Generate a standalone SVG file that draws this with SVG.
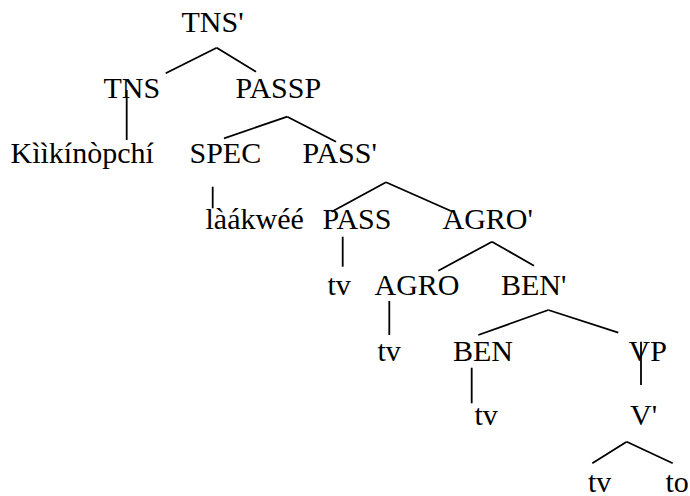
<svg xmlns="http://www.w3.org/2000/svg" width="690" height="496" viewBox="0 0 690 496">
<style>
.n text{font-family:"Liberation Serif","Times New Roman","DejaVu Serif",serif;font-size:30px;fill:#000}
.c line{stroke:#000;stroke-width:1.8;stroke-linecap:butt}
</style>
<rect width="690" height="496" fill="#fff"/>
<g class="c" id="connectors">
<line x1="216.7" y1="47.7" x2="165.7" y2="73.3"/>
<line x1="216.7" y1="47.7" x2="256" y2="71.7"/>
<line x1="126.7" y1="90" x2="126.7" y2="140"/>
<line x1="287.3" y1="116.7" x2="224" y2="138.3"/>
<line x1="287.3" y1="116.7" x2="336" y2="141.7"/>
<line x1="212.7" y1="186.7" x2="212.7" y2="208.3"/>
<line x1="386" y1="182.3" x2="331.7" y2="211.7"/>
<line x1="386" y1="182.3" x2="452.7" y2="211.7"/>
<line x1="342.7" y1="236.7" x2="342.7" y2="266.7"/>
<line x1="492" y1="241.7" x2="438.3" y2="270.7"/>
<line x1="492" y1="241.7" x2="534" y2="265.7"/>
<line x1="389.3" y1="301" x2="389.3" y2="335"/>
<line x1="548.3" y1="310" x2="478.3" y2="335"/>
<line x1="548.3" y1="310" x2="618.3" y2="332.7"/>
<line x1="471.7" y1="367.7" x2="471.7" y2="403.3"/>
<line x1="641" y1="341.7" x2="641" y2="385"/>
<line x1="626.7" y1="441.7" x2="592.3" y2="463.3"/>
<line x1="626.7" y1="441.7" x2="672.7" y2="463.3"/>
</g>
<g class="n" font-family="Liberation Serif, Times New Roman, serif" font-size="30">
<g id="n-tnsbar"><text x="181.5" y="32">TNS'</text></g>
<g id="n-tns"><text x="103.5" y="98">TNS</text></g>
<g id="n-passp"><text x="235.5" y="98">PASSP</text></g>
<g id="n-kiiki"><text x="10.5" y="163">Kììkínòpchí</text></g>
<g id="n-spec"><text x="189.5" y="163">SPEC</text></g>
<g id="n-passbar"><text x="302.5" y="163">PASS'</text></g>
<g id="n-laak"><text x="205.5" y="229">làákwéé</text></g>
<g id="n-pass"><text x="322.5" y="229">PASS</text></g>
<g id="n-agrobar"><text x="442.5" y="229">AGRO'</text></g>
<g id="n-tv1"><text x="327.5" y="295">tv</text></g>
<g id="n-agro"><text x="374.5" y="295">AGRO</text></g>
<g id="n-benbar"><text x="501" y="295">BEN'</text></g>
<g id="n-tv2"><text x="377.5" y="360.5">tv</text></g>
<g id="n-ben"><text x="453" y="360.5">BEN</text></g>
<g id="n-vp"><text x="628.5" y="360.5">VP</text></g>
<g id="n-tv3"><text x="474.5" y="425">tv</text></g>
<g id="n-vbar"><text x="630" y="425">V'</text></g>
<g id="n-tv4"><text x="588" y="491.5">tv</text></g>
<g id="n-to"><text x="665.5" y="491.5">to</text></g>
</g>
</svg>
